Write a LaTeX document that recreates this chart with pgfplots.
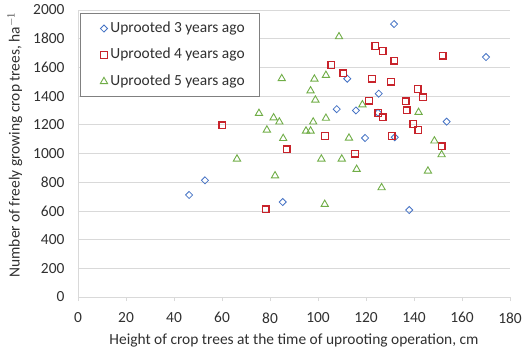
\documentclass[border=0pt]{standalone}
\usepackage{fontspec}
\setmainfont{Carlito}
\usepackage{pgfplots}
\pgfplotsset{compat=1.18}
\definecolor{cthree}{HTML}{4472C4}
\definecolor{cfour}{HTML}{C8232B}
\definecolor{cfive}{HTML}{70AD47}
\definecolor{gridc}{HTML}{D9D9D9}
\definecolor{txt}{HTML}{303030}
\begin{document}
\begin{tikzpicture}
\begin{axis}[
  at={(0,0)}, anchor=south west,
  scale only axis, width=432bp, height=287bp,
  xmin=0, xmax=180, ymin=0, ymax=2000,
  xtick={0,20,...,180}, ytick={0,200,...,2000},
  axis x line*=bottom, axis y line*=left,
  axis line style={-, draw=gridc, line width=0.8bp},
  ymajorgrids, grid style={draw=gridc, line width=0.8bp},
  tick align=outside, major tick length=4bp,
  xtick style={draw=gridc, line width=0.8bp},
  ytick style={draw=none},
  font=\fontsize{15.5}{18}\selectfont,
  ticklabel style={font=\fontsize{15.5}{18}\selectfont, text=txt},
  yticklabel style={xshift=-6bp},
  xticklabel style={yshift=-8bp},
  /pgf/number format/assume math mode=true,
  /pgf/number format/1000 sep={},
  xlabel={Height of crop trees at the time of uprooting operation, cm},
  ylabel={Number of freely growing crop trees, ha$^{-1}$},
  xlabel style={at={(axis description cs:0.5,-0.15)}, anchor=center, text=txt},
  ylabel style={at={(axis description cs:-0.146,0.53)}, anchor=center, text=txt},
  legend style={at={(axis description cs:0.005,0.99)}, anchor=north west,
    draw=black!50, line width=0.8bp, fill=white,
    font=\fontsize{15.5}{18}\selectfont, text=txt,
    inner xsep=4bp, inner ysep=6bp, row sep=8bp,
    nodes={inner sep=2bp, text height=11bp, text depth=3.5bp}},
  legend cell align=left,
  legend image code/.code={\path (-19bp,0bp) (4bp,0bp); \draw[#1] plot coordinates {(0bp,0bp)};},
]
\addplot[only marks, mark=square, mark size=2.5bp, mark options={rotate=45, draw=cthree, line width=0.8bp, fill=white}] coordinates {
(46.3,711) (52.9,813) (85.3,662) (107.8,1309) (112.2,1521) (115.8,1300)
(119.6,1108) (125.0,1284) (125.3,1417) (131.7,1902) (132.0,1113)
(138.0,606) (153.6,1222) (170.0,1672)
};
\addlegendentry{\makebox[143bp][l]{Uprooted 3 years ago}}
\addplot[only marks, mark=square, mark size=3.3bp, mark options={draw=cfour, line width=1.3bp, fill=white}] coordinates {
(123.9,1749) (126.9,1714) (131.8,1647) (151.9,1682) (110.6,1559) (122.5,1521)
(130.4,1501) (141.5,1449) (143.8,1392) (121.3,1368) (136.5,1364) (136.9,1301)
(125.1,1282) (126.9,1252) (139.7,1206) (141.8,1164) (130.7,1122) (151.5,1050)
(115.4,999) (60.1,1196) (102.9,1122) (86.9,1030) (78.2,611) (105.6,1617)
};
\addlegendentry{\makebox[143bp][l]{Uprooted 4 years ago}}
\addplot[only marks, mark=triangle, mark size=4.2bp, mark options={draw=cfive, line width=0.9bp, fill=white}] coordinates {
(108.75,1814) (84.9,1522) (98.5,1519) (103.3,1545) (96.9,1437) (98.9,1373)
(75.4,1280) (81.5,1249) (83.9,1220) (98.0,1220) (103.3,1246) (78.7,1164)
(95.0,1157) (96.9,1157) (85.5,1105) (112.9,1108) (66.25,962) (101.4,962)
(109.9,962) (82.1,845) (102.8,646) (148.5,1088) (151.5,992) (116.1,890)
(145.8,878) (126.5,762) (141.9,1287) (118.5,1340)
};
\addlegendentry{\makebox[143bp][l]{Uprooted 5 years ago}}
\end{axis}
\path[use as bounding box] (-78bp,-56bp) rectangle (452bp,297bp);
\end{tikzpicture}
\end{document}
